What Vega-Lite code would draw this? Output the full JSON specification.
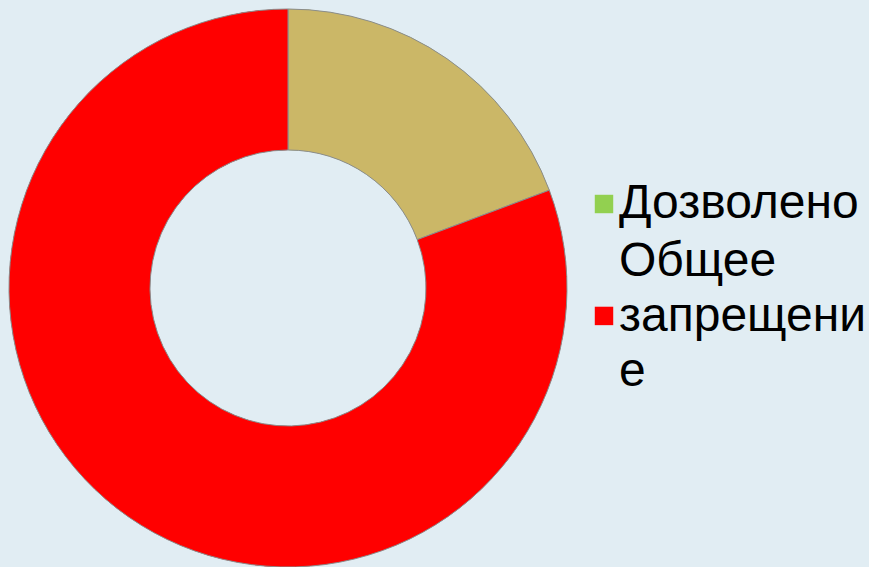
{
  "$schema": "https://vega.github.io/schema/vega-lite/v6.json",
  "width": 576,
  "height": 576,
  "padding": {"left": 0, "top": 0, "bottom": 0, "right": 40},
  "autosize": {"type": "pad"},
  "background": "#E1EDF3",
  "data": {"values": [
    {"category": "Дозволено", "value": 19.3},
    {"category": "Общее запрещение", "value": 80.7}
  ]},
  "layer": [
    {
      "mark": {"type": "arc", "outerRadius": 279, "innerRadius": 138},
      "encoding": {
        "theta": {"field": "value", "type": "quantitative", "stack": true},
        "fill": {
          "field": "category",
          "type": "nominal",
          "scale": {"domain": ["Дозволено", "Общее запрещение"], "range": ["#92D050", "#FF0000"]},
          "legend": {
            "title": null,
            "orient": "none",
            "legendX": 580,
            "legendY": 180,
            "padding": 0,
            "symbolType": {"expr": "datum.value == 'Общее запрещение' ? 'M-1,4.85H1V6.85H-1Z' : 'square'"},
            "symbolSize": 340,
            "symbolStrokeWidth": 0,
            "symbolOpacity": 1,
            "labelFont": "Liberation Sans",
            "labelFontSize": 48,
            "labelColor": "#000000",
            "labelLimit": 0,
            "labelOffset": -9,
            "rowPadding": 10,
            "labelExpr": "datum.label == 'Общее запрещение' ? ['Общее', 'запрещени', 'е'] : datum.label"
          }
        }
      }
    },
    {
      "mark": {"type": "arc", "outerRadius": 279, "innerRadius": 138, "stroke": "#8C8C8C", "strokeWidth": 1},
      "encoding": {
        "theta": {"field": "value", "type": "quantitative", "stack": true},
        "color": {
          "field": "category",
          "type": "nominal",
          "scale": {"domain": ["Дозволено", "Общее запрещение"], "range": ["#CBB767", "#FF0000"]},
          "legend": null
        }
      }
    }
  ],
  "config": {
    "view": {"stroke": null},
    "style": {"guide-label": {"lineHeight": 55}}
  }
}
